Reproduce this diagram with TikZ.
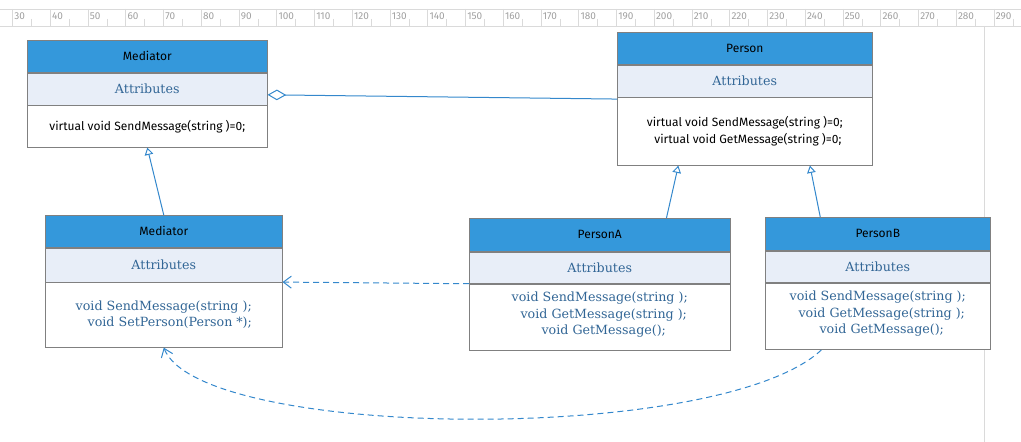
\documentclass[tikz,border=0pt]{standalone}
\usepackage{fontspec}
\usepackage{xcolor}
\usepackage{tikz}
\usetikzlibrary{positioning,calc,arrows.meta}
\newfontfamily\headfont{Fira Sans}
\newfontfamily\codefont{DejaVu Serif}

\definecolor{headblue}{RGB}{52,152,219}
\definecolor{attrfill}{RGB}{232,238,248}
\definecolor{boxline}{RGB}{128,128,128}
\definecolor{attrtext}{RGB}{50,102,150}
\definecolor{linkblue}{RGB}{52,136,204}
\definecolor{rulegray}{RGB}{218,218,218}
\definecolor{rulenum}{RGB}{160,160,160}

\begin{document}
\begin{tikzpicture}[
    x=0.75pt, y=-0.75pt,
    node distance=0pt,
    classhead/.style={rectangle, draw=boxline, fill=headblue, minimum height=24pt, inner sep=0pt, font=\headfont\fontsize{9}{11}\selectfont},
    classattr/.style={rectangle, draw=boxline, fill=attrfill, minimum height=24pt, inner sep=0pt, text=attrtext, font=\codefont\fontsize{9.5}{11}\selectfont},
    absops/.style={rectangle, draw=boxline, fill=white, inner sep=0pt, align=center, font=\headfont\fontsize{9}{12.75}\selectfont},
    implops/.style={rectangle, draw=boxline, fill=white, inner sep=0pt, align=center, text=attrtext, font=\codefont\fontsize{9.5}{12.2}\selectfont},
    inherit/.style={linkblue, line width=0.75pt, -{Triangle[open, length=5.5pt, width=6.5pt]}},
    aggr/.style={linkblue, line width=0.75pt, -{Diamond[open, length=14pt, width=8pt]}},
    uses/.style={linkblue, line width=0.75pt, dash pattern=on 4.5pt off 3pt, -{Straight Barb[length=6pt, width=9pt]}},
    rulenumber/.style={text=rulenum, font=\headfont\fontsize{7.5}{8}\selectfont, inner sep=0pt, anchor=west}
]
\useasboundingbox (0,0) rectangle (1021,442);

% ruler at the top
\draw[rulegray] (0,9) -- (1021,9) (0,26) -- (1021,26);
\foreach \k in {0,...,26} {
  \pgfmathsetmacro\xx{12.5+37.75*\k}
  \pgfmathtruncatemacro\lab{30+10*\k}
  \draw[rulegray] (\xx,9) -- (\xx,26) (\xx+18.9,19) -- (\xx+18.9,26);
  \node[rulenumber] (r\k) at (\xx+1.5,16) {\lab};
}
\draw[rulegray] (984,26) -- (984,442);

% Mediator (abstract)
\node[classhead, minimum width=180pt, anchor=north west] (medTitle) at (27,40) {Mediator};
\node[classattr, minimum width=180pt, below=of medTitle] (medAttr) {Attributes};
\node[absops, minimum width=180pt, minimum height=31.5pt, below=of medAttr] (medOps) {virtual void SendMessage(string )=0;};

% Person (abstract)
\node[classhead, minimum width=191.25pt, anchor=north west] (perTitle) at (617,32) {Person};
\node[classattr, minimum width=191.25pt, below=of perTitle] (perAttr) {Attributes};
\node[absops, minimum width=191.25pt, minimum height=51pt, below=of perAttr] (perOps) {virtual void SendMessage(string )=0;\\ \ \ virtual void GetMessage(string )=0;};

% concrete Mediator
\node[classhead, minimum width=177.75pt, anchor=north west] (cmTitle) at (45,215) {Mediator};
\node[classattr, minimum width=177.75pt, minimum height=25.5pt, below=of cmTitle] (cmAttr) {Attributes};
\node[implops, minimum width=177.75pt, minimum height=48.75pt, below=of cmAttr] (cmOps) {void SendMessage(string );\\ \ \ \ void SetPerson(Person *);};

% PersonA
\node[classhead, minimum width=195.75pt, minimum height=25pt, anchor=north west] (paTitle) at (469,218) {PersonA};
\node[classattr, minimum width=195.75pt, minimum height=23.5pt, below=of paTitle] (paAttr) {Attributes};
\node[implops, minimum width=195.75pt, minimum height=50pt, below=of paAttr] (paOps) {void SendMessage(string );\\ \ \ void GetMessage(string );\\ \ \ void GetMessage();\\[-6pt]};

% PersonB
\node[classhead, minimum width=168.75pt, minimum height=25pt, anchor=north west] (pbTitle) at (765,217) {PersonB};
\node[classattr, minimum width=168.75pt, minimum height=23.5pt, below=of pbTitle] (pbAttr) {Attributes};
\node[implops, minimum width=168.75pt, minimum height=50pt, below=of pbAttr] (pbOps) {void SendMessage(string );\\ \ \ void GetMessage(string );\\ \ \ void GetMessage();\\[-6pt]};

% generalisation
\draw[inherit] (cmTitle.north) -- (medOps.south);
\draw[inherit] ($(paTitle.north west)!0.755!(paTitle.north east)$) -- ($(perOps.south west)!0.24!(perOps.south east)$);
\draw[inherit] ($(pbTitle.north west)!0.245!(pbTitle.north east)$) -- ($(perOps.south west)!0.755!(perOps.south east)$);

% aggregation
\draw[aggr] ([yshift=-1.5pt]perOps.north west) -- ([yshift=-4.5pt]medAttr.east);

% dependencies
\draw[uses] (paAttr.south west) -- (cmAttr.south east);
\draw[uses] ($(pbOps.south west)!0.25!(pbOps.south east)$) .. controls (720,445) and (200,440) .. (cmOps.south);

\end{tikzpicture}
\end{document}
